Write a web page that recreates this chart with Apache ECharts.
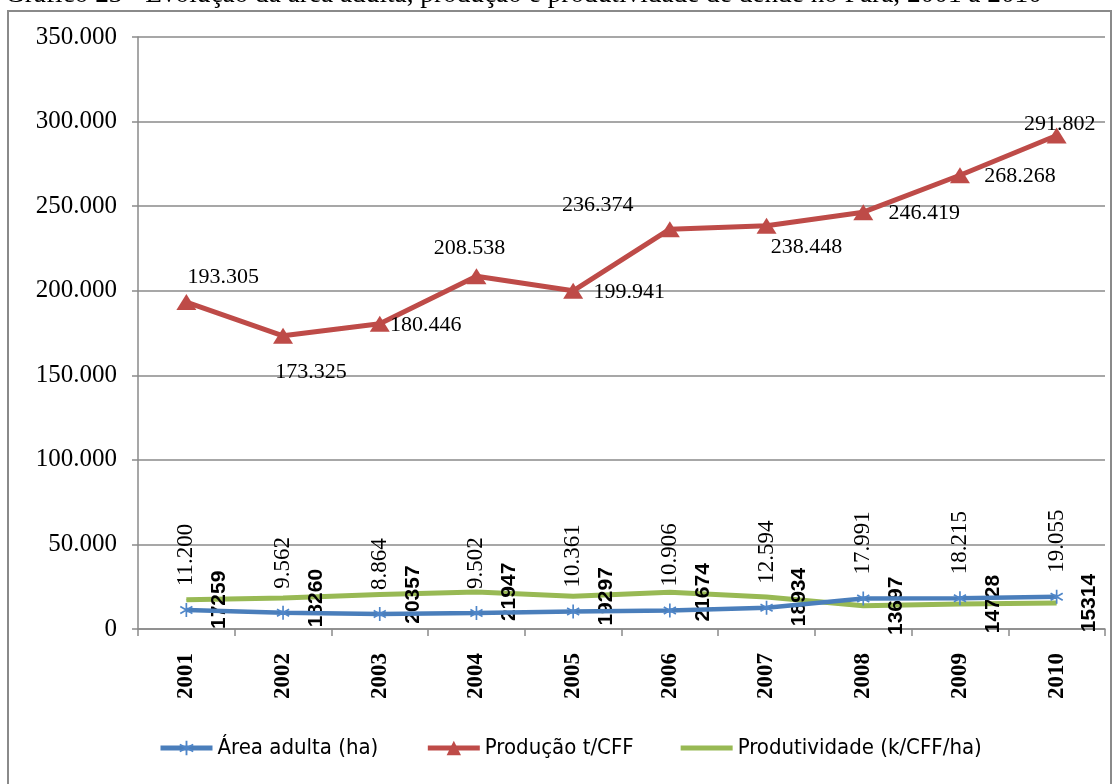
<!DOCTYPE html>
<html>
<head>
<meta charset="utf-8">
<script src="https://cdn.jsdelivr.net/npm/echarts@6/dist/echarts.min.js"></script>
<style>
html,body{margin:0;padding:0;background:#fff;}
#chart{width:1118px;height:784px;}
</style>
</head>
<body>
<div id="chart"></div>
<script>
// ---- data ----
const titleText = 'Gráfico 23 - Evolução da área adulta, produção e produtividade de dendê no Pará, 2001 a 2010';
const years = ['2001','2002','2003','2004','2005','2006','2007','2008','2009','2010'];
const areaAdulta = [11200, 9562, 8864, 9502, 10361, 10906, 12594, 17991, 18215, 19055];
const producao = [193305, 173325, 180446, 208538, 199941, 236374, 238448, 246419, 268268, 291802];
const produtividade = [17259, 18260, 20357, 21947, 19297, 21674, 18934, 13697, 14728, 15314];
const seriesNames = ['Área adulta (ha)', 'Produção t/CFF', 'Produtividade (k/CFF/ha)'];

// label offsets for the production series (layout only)
const prodLabelOffsets = [[37,-25],[28,36],[46,1],[-7,-28],[56,1],[-72,-24],[40,22],[61,1],[60,1],[3,-11]];

function fmt(v){ return String(v).replace(/\B(?=(\d{3})+(?!\d))/g, '.'); }

const asterisk = 'path://M4.4,0 L5.6,0 L5.6,10 L4.4,10 Z M0.97,1.98 L9.63,6.98 L9.03,8.02 L0.37,3.02 Z M0.37,6.98 L9.03,1.98 L9.63,3.02 L0.97,8.02 Z';
const flatLine = 'path://M0,0 L52,0 L52,5 L0,5 Z';

const serif = 'Liberation Serif';
const narrow = '"Liberation Sans Narrow", "DejaVu Sans Condensed", "Liberation Sans"';

const chart = echarts.init(document.getElementById('chart'), null, {renderer:'canvas'});
chart.setOption({
  animation: false,
  backgroundColor: '#fff',
  graphic: [
    {type:'rect', shape:{x:8, y:11, width:1103, height:800}, style:{fill:'none', stroke:'#8a8a8a', lineWidth:2}, z:0},
    {type:'text', x:5, y:8, style:{text:titleText, font:'27.3px "Liberation Serif"', fill:'#000', verticalAlign:'bottom', align:'left'}}
  ],
  grid: {left:138, right:13, top:37, bottom:155, containLabel:false},
  legend: {
    left: 158, top: 737, padding: 0,
    itemWidth: 52, itemHeight: 18, itemGap: 47,
    lineStyle: {width: 5},
    textStyle: {fontFamily: narrow, fontSize:22, color:'#000'},
    data: [
      {name: seriesNames[0]},
      {name: seriesNames[1]},
      {name: seriesNames[2], icon: flatLine}
    ]
  },
  xAxis: {
    type:'category', data: years, boundaryGap:true,
    axisLine:{lineStyle:{color:'#8a8a8a', width:1.5}},
    axisTick:{show:true, length:7, lineStyle:{color:'#8a8a8a', width:1.5}},
    axisLabel:{rotate:90, margin:24, fontFamily:serif, fontWeight:'bold', fontSize:23, color:'#000'}
  },
  yAxis: {
    type:'value', min:0, max:350000, interval:50000,
    axisLine:{show:true, lineStyle:{color:'#8a8a8a', width:1.5}},
    axisTick:{show:true, length:6, lineStyle:{color:'#8a8a8a', width:1.5}},
    splitLine:{show:true, lineStyle:{color:'#8a8a8a', width:1.5}},
    axisLabel:{margin:21, fontFamily:serif, fontSize:25, color:'#000', formatter: v => fmt(v)}
  },
  series: [
    {
      name: seriesNames[0], type:'line', data: areaAdulta,
      symbol: asterisk, symbolSize: 14, symbolKeepAspect: true,
      lineStyle:{color:'#4a7ebb', width:4.5},
      itemStyle:{color:'#4f86c9'},
      label:{show:true, position:'inside', offset:[24,0], rotate:90, align:'left', verticalAlign:'middle',
        fontFamily:serif, fontSize:23, color:'#000', formatter: p => fmt(p.value)},
      z: 3
    },
    {
      name: seriesNames[1], type:'line',
      data: producao.map((v,i) => ({value:v, label:{offset: prodLabelOffsets[i]}})),
      symbol:'triangle', symbolSize:[20,16],
      lineStyle:{color:'#be4b48', width:5},
      itemStyle:{color:'#be4b48'},
      label:{show:true, position:'inside', align:'center', verticalAlign:'middle',
        fontFamily:serif, fontSize:22, color:'#000', formatter: p => fmt(p.value)},
      z: 4
    },
    {
      name: seriesNames[2], type:'line', data: produtividade,
      symbol:'circle', symbolSize:1,
      lineStyle:{color:'#98b954', width:5},
      itemStyle:{color:'#98b954'},
      label:{show:true, position:'inside', offset:[0,33], rotate:90, align:'center', verticalAlign:'middle',
        fontFamily:'Liberation Sans', fontWeight:'bold', fontSize:21, color:'#000', formatter: p => String(p.value)},
      z: 2
    }
  ]
});
</script>
</body>
</html>
